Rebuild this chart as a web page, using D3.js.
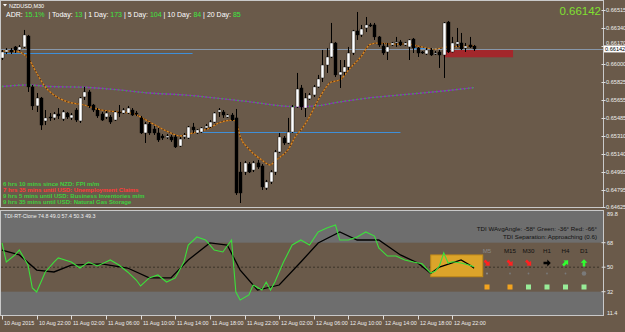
<!DOCTYPE html>
<html>
<head>
<meta charset="utf-8">
<script src="https://cdn.jsdelivr.net/npm/d3@7/dist/d3.min.js"></script>
<style>
  body { margin: 0; background: #6a5a4a; }
  svg { display: block; font-family: "Liberation Sans", Arial, sans-serif; }
</style>
</head>
<body>
<svg id="chart" width="625" height="332"></svg>
<script>
// ---- data (NZDUSD M30, 10 Aug 18:00 onwards) ----
// bars: [open, high, low, close]
const bars = [
  [0.66055,0.66132,0.66036,0.66113],[0.66113,0.66151,0.66094,0.66132],[0.66132,0.66151,0.66094,0.66113],
  [0.66161,0.66170,0.66103,0.66132],[0.66132,0.66180,0.66122,0.66161],[0.66161,0.66324,0.66151,0.66276],
  [0.66266,0.66276,0.65730,0.65778],[0.65778,0.65797,0.65557,0.65596],[0.65596,0.65720,0.65538,0.65672],
  [0.65672,0.65682,0.65366,0.65413],[0.65452,0.65557,0.65413,0.65481],[0.65490,0.65528,0.65452,0.65481],
  [0.65481,0.65538,0.65461,0.65519],[0.65519,0.65576,0.65471,0.65500],[0.65471,0.65557,0.65452,0.65538],
  [0.65528,0.65538,0.65471,0.65490],[0.65481,0.65528,0.65461,0.65509],[0.65557,0.65576,0.65442,0.65461],
  [0.65452,0.65682,0.65433,0.65672],[0.65682,0.65778,0.65653,0.65730],[0.65730,0.65749,0.65576,0.65596],
  [0.65605,0.65615,0.65538,0.65557],[0.65557,0.65576,0.65481,0.65500],[0.65519,0.65538,0.65452,0.65461],
  [0.65490,0.65548,0.65471,0.65528],[0.65490,0.65509,0.65423,0.65442],[0.65461,0.65548,0.65452,0.65538],
  [0.65538,0.65605,0.65490,0.65528],[0.65528,0.65576,0.65519,0.65557],[0.65528,0.65596,0.65519,0.65576],
  [0.65557,0.65576,0.65500,0.65509],[0.65528,0.65548,0.65500,0.65519],[0.65481,0.65500,0.65327,0.65337],
  [0.65337,0.65442,0.65241,0.65423],[0.65423,0.65442,0.65318,0.65337],[0.65375,0.65404,0.65318,0.65337],
  [0.65337,0.65385,0.65251,0.65270],[0.65308,0.65327,0.65270,0.65289],[0.65294,0.65327,0.65279,0.65308],
  [0.65299,0.65318,0.65251,0.65270],[0.65299,0.65318,0.65193,0.65203],[0.65212,0.65299,0.65203,0.65279],
  [0.65299,0.65337,0.65279,0.65318],[0.65289,0.65404,0.65279,0.65394],[0.65394,0.65433,0.65337,0.65366],
  [0.65337,0.65375,0.65327,0.65366],[0.65346,0.65394,0.65337,0.65385],[0.65385,0.65423,0.65375,0.65404],
  [0.65394,0.65461,0.65385,0.65442],[0.65442,0.65538,0.65433,0.65528],[0.65538,0.65576,0.65490,0.65557],
  [0.65538,0.65557,0.65481,0.65509],[0.65490,0.65519,0.65481,0.65509],[0.65509,0.65528,0.65452,0.65461],
  [0.65481,0.65567,0.64743,0.64762],[0.64963,0.65059,0.64666,0.64762],[0.64963,0.65069,0.64935,0.65050],
  [0.65040,0.65059,0.64954,0.64963],[0.64982,0.65069,0.64963,0.65050],[0.65050,0.65078,0.64992,0.65011],
  [0.65021,0.65040,0.64791,0.64820],[0.64810,0.64887,0.64791,0.64868],[0.64868,0.64982,0.64848,0.64963],
  [0.64963,0.65174,0.64935,0.65155],[0.65155,0.65337,0.65145,0.65299],[0.65289,0.65308,0.65222,0.65241],
  [0.65241,0.65481,0.65232,0.65346],[0.65346,0.65605,0.65337,0.65586],[0.65586,0.65912,0.65576,0.65758],
  [0.65768,0.65797,0.65557,0.65586],[0.65576,0.65720,0.65490,0.65672],[0.65663,0.65720,0.65653,0.65701],
  [0.65701,0.65797,0.65682,0.65778],[0.65778,0.65893,0.65768,0.65854],[0.65864,0.66132,0.65825,0.65988],
  [0.65988,0.66151,0.65912,0.66065],[0.66065,0.66391,0.66055,0.66199],[0.66199,0.66209,0.65873,0.65893],
  [0.65893,0.66036,0.65768,0.65921],[0.65921,0.66036,0.65893,0.65969],[0.65969,0.66161,0.65940,0.66103],
  [0.66103,0.66324,0.66084,0.66314],[0.66314,0.66496,0.66228,0.66276],[0.66276,0.66372,0.66257,0.66333],
  [0.66343,0.66448,0.66304,0.66372],[0.66372,0.66391,0.66352,0.66362],[0.66372,0.66391,0.66228,0.66257],
  [0.66257,0.66266,0.66161,0.66180],[0.66170,0.66199,0.66084,0.66103],[0.66113,0.66199,0.66036,0.66161],
  [0.66180,0.66209,0.66170,0.66199],[0.66199,0.66257,0.66161,0.66209],[0.66209,0.66228,0.66170,0.66180],
  [0.66180,0.66209,0.66170,0.66199],[0.66161,0.66237,0.66036,0.66228],[0.66237,0.66247,0.66103,0.66151],
  [0.66151,0.66161,0.66065,0.66103],[0.66113,0.66122,0.66094,0.66103],[0.66094,0.66151,0.66084,0.66132],
  [0.66132,0.66151,0.66075,0.66084],[0.66094,0.66122,0.66084,0.66103],[0.66113,0.66132,0.65960,0.66084],
  [0.66084,0.66400,0.65864,0.66391],[0.66400,0.66410,0.66103,0.66113],[0.66113,0.66257,0.66108,0.66199],
  [0.66189,0.66343,0.66161,0.66209],[0.66199,0.66295,0.66132,0.66142],[0.66151,0.66199,0.66113,0.66170],
  [0.66180,0.66257,0.66151,0.66161],[0.66170,0.66180,0.66122,0.66142]
];

// moving averages, [bar, price]
const fastMA = [[0,0.66122],[3,0.66122],[6,0.66055],[8,0.65911],[10,0.65777],[12,0.65701],[15,0.65637],
  [19,0.65605],[23,0.65557],[27,0.65538],[30,0.65528],[32,0.65490],[34,0.65445],[37,0.65375],[39,0.65337],
  [41,0.65308],[43,0.65327],[46,0.65356],[48,0.65385],[50,0.65433],[53,0.65461],[54,0.65451],[55,0.65301],
  [57,0.65183],[60,0.65078],[62,0.65030],[63,0.65068],[66,0.65174],[68,0.65318],[69,0.65365],[71,0.65493],
  [73,0.65653],[76,0.65825],[78,0.65844],[80,0.65940],[83,0.66074],[85,0.66186],[87,0.66199],[90,0.66189],
  [94,0.66189],[96,0.66170],[100,0.66141],[103,0.66161],[109,0.66170]];
const slowMA = [[0,0.65782],[6,0.65797],[11,0.65782],[19,0.65775],[27,0.65749],[34,0.65720],[42,0.65701],
  [50,0.65669],[57,0.65637],[65,0.65595],[69,0.65589],[73,0.65598],[76,0.65621],[84,0.65669],[92,0.65701],
  [100,0.65732],[103,0.65744],[109,0.65771]];

const priceTicks = [0.66515,0.66340,0.66170,0.66000,0.65825,0.65655,0.65485,0.65310,0.65140,0.64965,0.64795,0.64625];
const bidPrice = 0.66142;
// horizontal levels: [price, fromBar, toBar]
const levels = [[0.66100,0,44],[0.65343,46,92],[0.66154,95,102]];
const zone = {top: 0.66141, bottom: 0.66062, from: 102, to: 118};

const timeLabels = ["10 Aug 2015","10 Aug 22:00","11 Aug 02:00","11 Aug 06:00","11 Aug 10:00","11 Aug 14:00",
  "11 Aug 18:00","11 Aug 22:00","12 Aug 02:00","12 Aug 06:00","12 Aug 10:00","12 Aug 14:00","12 Aug 18:00","12 Aug 22:00"];
const timeLabelBars = [0,8,16,24,32,40,48,56,64,72,80,88,96,104];

const adrNames = ["ADR:","Today:","1 Day:","5 Day:","10 Day:","20 Day:"];
const adrValues = ["15.1%","13","173","104","84","85"];

const newsLines = ["6 hrs 10 mins since NZD: FPI m/m","7 hrs 35 mins until USD: Unemployment Claims",
  "9 hrs 5 mins until USD: Business Inventories m/m","9 hrs 35 mins until USD: Natural Gas Storage"];
const newsHigh = [false,true,false,false];

// TDI sub window, [bar, value]
const tdiGreen = [[0,67.8],[1,53.8],[3,59],[4,62.6],[6,51.6],[7,34.7],[8,31.8],[10,46.5],[12,53.8],[13,56.8],
  [16,53.8],[18,49.4],[20,53.8],[22,50.9],[24,53.8],[25,55.3],[27,51.6],[29,46.5],[31,40.6],[32,36.2],
  [34,42.1],[36,44.3],[38,39.1],[40,42.1],[42,53.8],[43,66.3],[45,72.2],[47,70],[49,62.6],[51,61.2],
  [53,70],[54,31.8],[55,25.9],[57,29.6],[58,36.9],[60,33.2],[61,39.1],[62,33.2],[63,39.1],[65,53.8],
  [67,66.3],[69,70],[71,66.3],[73,75.9],[75,78.8],[77,81],[78,70],[80,70],[82,72.2],[84,75.9],[86,72.9],
  [87,64.1],[89,58.2],[91,58.2],[93,55.3],[95,53.8],[97,52.5],[99,45.7],[100,47],[101,50.9],[102,60.5],
  [103,53.1],[104,54],[106,53.1],[108,51.5],[109,50.3]];
const tdiBlack = [[0,62.6],[4,59],[8,47.9],[12,46.5],[16,51.6],[23,52.4],[29,49.4],[34,42.1],[39,42.1],
  [43,55.3],[48,67.8],[52,66.3],[55,47.9],[59,33.2],[64,36.9],[69,53.8],[73,67.8],[78,75.9],[82,70],
  [87,70],[92,59],[96,53.1],[99,45.5],[101,50.1],[106,55.3],[108,51.6],[109,49.3]];
const tdiLevels = [68, 50, 32];
const tdiRange = [11.4, 89.8];
const tdiTitle = "TDI-RT-Clone 74.8 49.0 57.4 50.3 49.3";
const tdiInfo = ["TDI WAvgAngle: -58°  Green: -36°  Red: -66°", "TDI Separation: Approaching (0.6)"];
const tfNames = ["M5","M15","M30","H1","H4","D1"];
const tfTrend = ["down","down","down","flat","up","strongup"];
const tfState = ["weak","weak","strong","strong","strong","strong"];
const tdiBoxBars = [99, 111];
const tdiBoxValues = [43, 59];

// ---- layout ----
const svg = d3.select("#chart");
const mainBottom = 207.5, axisX = 603.5;
const x = d3.scaleLinear().domain([0, 139]).range([2, 604]);
const y = d3.scaleLinear().domain([0.64625, 0.66515]).range([207.3, 10]);
const ys = d3.scaleLinear().domain([32, 68]).range([291.7, 242.7]);
const subTop = 210.5, subBottom = 315.5;

const bg = "#6a5a4a", frame = "#c9c9c9";
svg.append("rect").attr("width", 625).attr("height", 332).attr("fill", bg);

svg.append("clipPath").attr("id", "mainClip")
  .append("rect").attr("x", 1).attr("y", 1).attr("width", axisX - 1).attr("height", mainBottom - 1);
const main = svg.append("g").attr("clip-path", "url(#mainClip)");

// red zone
main.append("rect")
  .attr("x", x(zone.from)).attr("width", x(zone.to) - x(zone.from))
  .attr("y", y(zone.top)).attr("height", y(zone.bottom) - y(zone.top))
  .attr("fill", "#a3272b");

// bid line
main.append("line").attr("x1", 0).attr("x2", axisX)
  .attr("y1", Math.round(y(bidPrice)) + 0.5).attr("y2", Math.round(y(bidPrice)) + 0.5)
  .attr("stroke", "#8797aa").attr("stroke-width", 1);

// blue levels
main.selectAll(".lvl").data(levels).enter().append("line")
  .attr("x1", d => d[1] === 0 ? 0 : x(d[1])).attr("x2", d => x(d[2]))
  .attr("y1", d => Math.round(y(d[0])) + 0.5).attr("y2", d => Math.round(y(d[0])) + 0.5)
  .attr("stroke", "#3f8fd8").attr("stroke-width", 1.2);

// moving averages (dotted, two colours)
const maLine = d3.line().x(d => x(d[0])).y(d => y(d[1])).curve(d3.curveMonotoneX);
main.append("path").attr("d", maLine(slowMA)).attr("fill", "none").attr("stroke", "#8e2cb8").attr("stroke-width", 1.3);
main.append("path").attr("d", maLine(slowMA)).attr("fill", "none").attr("stroke", "#33c433").attr("stroke-width", 1.3).attr("stroke-dasharray", "1.5,2.5");
main.append("path").attr("d", maLine(fastMA)).attr("fill", "none").attr("stroke", "#e08a1e").attr("stroke-width", 1.2);
main.append("path").attr("d", maLine(fastMA)).attr("fill", "none").attr("stroke", "#5a2f10").attr("stroke-width", 1.2).attr("stroke-dasharray", "1.5,2");

// candles
const candle = main.selectAll(".bar").data(bars).enter().append("g");
candle.append("line")
  .attr("x1", (d, i) => Math.round(x(i)) + 0.5).attr("x2", (d, i) => Math.round(x(i)) + 0.5)
  .attr("y1", d => y(d[1])).attr("y2", d => y(d[2]))
  .attr("stroke", "#000").attr("stroke-width", 1);
candle.append("rect")
  .attr("x", (d, i) => Math.round(x(i)) - 1)
  .attr("width", 3)
  .attr("y", d => y(Math.max(d[0], d[3])))
  .attr("height", d => Math.max(1, Math.abs(y(d[0]) - y(d[3]))))
  .attr("fill", d => d[3] >= d[0] ? "#fff" : "#000")
  .attr("stroke", "#000").attr("stroke-width", 0.4);

// news lines
svg.selectAll(".news").data(newsLines).enter().append("text")
  .attr("x", 3).attr("y", (d, i) => 185.5 + i * 6)
  .attr("font-size", 6).attr("font-weight", "bold")
  .attr("fill", (d, i) => newsHigh[i] ? "#ff3a3a" : "#3fcf3f")
  .text(d => d);

// header
svg.append("path").attr("d", "M3,4 L7,4 L5,6.5 Z").attr("fill", "#fff");
svg.append("text").attr("x", 9).attr("y", 7.5).attr("font-size", 5.5).attr("fill", "#fff").text("NZDUSD,M30");
const adr = svg.append("text").attr("x", 6).attr("y", 16.5).attr("font-size", 7).attr("xml:space", "preserve");
adrNames.forEach((n, i) => {
  adr.append("tspan").attr("fill", "#fff").text((i === 0 ? "" : (i === 1 ? "  | " : " | ")) + n + " ");
  adr.append("tspan").attr("fill", "#3ee63e").text(adrValues[i]);
});
svg.append("text").attr("x", 601).attr("y", 14.5).attr("text-anchor", "end")
  .attr("font-size", 11.5).attr("fill", "#80e030").text(d3.format(".5f")(bidPrice));

// frames
svg.append("rect").attr("x", 0.5).attr("y", 0.5).attr("width", axisX - 0.5).attr("height", mainBottom - 0.5)
  .attr("fill", "none").attr("stroke", frame);

// price axis (a label hidden by the bid box sits just above it)
const pa = svg.append("g");
const bidY = y(bidPrice);
pa.selectAll("line").data(priceTicks).enter().append("line")
  .attr("x1", axisX - 2).attr("x2", axisX + 2)
  .attr("y1", d => Math.round(y(d)) + 0.5).attr("y2", d => Math.round(y(d)) + 0.5)
  .attr("stroke", "#ddd");
pa.selectAll("text").data(priceTicks).enter().append("text")
  .attr("x", 606)
  .attr("y", d => Math.abs(y(d) - bidY) < 7 ? bidY - 4 : y(d) + 2)
  .attr("font-size", 5.6).attr("fill", "#eee")
  .text(d => d3.format(".5f")(d));
pa.append("rect").attr("x", 604).attr("y", bidY - 3.5).attr("width", 21).attr("height", 7).attr("fill", "#fff");
pa.append("text").attr("x", 605).attr("y", bidY + 2).attr("font-size", 5.6).attr("fill", "#000")
  .text(d3.format(".5f")(bidPrice));

// ---- TDI window ----
const sub = svg.append("g");
sub.append("rect").attr("x", 1).attr("y", subTop).attr("width", axisX - 1).attr("height", subBottom - subTop).attr("fill", "#6e6e6e");
sub.append("rect").attr("x", 1).attr("y", ys(68)).attr("width", axisX - 1).attr("height", ys(32) - ys(68)).attr("fill", bg);
sub.append("line").attr("x1", 1).attr("x2", axisX).attr("y1", ys(50)).attr("y2", ys(50))
  .attr("stroke", "#3a3328").attr("stroke-dasharray", "2,2");

sub.append("rect").attr("x", x(tdiBoxBars[0])).attr("width", x(tdiBoxBars[1]) - x(tdiBoxBars[0]))
  .attr("y", ys(tdiBoxValues[1])).attr("height", ys(tdiBoxValues[0]) - ys(tdiBoxValues[1]))
  .attr("fill", "#dca42a").attr("stroke", "#c08a18");

const tdiLine = d3.line().x(d => x(d[0])).y(d => ys(d[1]));
sub.append("path").attr("d", tdiLine(tdiBlack)).attr("fill", "none").attr("stroke", "#000").attr("stroke-width", 1.3);
sub.append("path").attr("d", tdiLine(tdiGreen)).attr("fill", "none").attr("stroke", "#3ce03c").attr("stroke-width", 1.1);

sub.append("rect").attr("x", 0.5).attr("y", subTop).attr("width", axisX - 0.5).attr("height", subBottom - subTop)
  .attr("fill", "none").attr("stroke", frame);
sub.append("text").attr("x", 4).attr("y", 217.5).attr("font-size", 5.3).attr("fill", "#eee").text(tdiTitle);
sub.selectAll(".info").data(tdiInfo).enter().append("text")
  .attr("x", 597).attr("y", (d, i) => 231 + i * 8).attr("text-anchor", "end")
  .attr("font-size", 6.2).attr("fill", "#111").text(d => d);

// multi timeframe panel
const tfX = [487, 510, 528.5, 547, 565.5, 584];
const arrowPath = "M-3.5,-1.3 L0.3,-1.3 L0.3,-3.4 L3.8,0 L0.3,3.4 L0.3,1.3 L-3.5,1.3 Z";
const trendAngle = {down: 45, flat: 0, up: -45, strongup: -90};
const trendColor = {down: "#ff2020", flat: "#000", up: "#30ff30", strongup: "#30ff30"};
tfNames.forEach((n, i) => {
  sub.append("text").attr("x", tfX[i]).attr("y", 252.5).attr("text-anchor", "middle")
    .attr("font-size", 6.2).attr("fill", i === 0 ? "#8a8a8a" : "#111").text(n);
  sub.append("path").attr("d", arrowPath)
    .attr("transform", `translate(${tfX[i]},263) rotate(${trendAngle[tfTrend[i]]})`)
    .attr("fill", trendColor[tfTrend[i]]);
  sub.append("circle").attr("cx", tfX[i]).attr("cy", 273.5).attr("r", i === 5 ? 2.3 : 0.9)
    .attr("fill", i === 0 ? "#8f8f8f" : "#7a7a7a");
  sub.append("rect").attr("x", tfX[i] - 2.5).attr("y", 284.5).attr("width", 5).attr("height", 5)
    .attr("fill", tfState[i] === "weak" ? "#f2a31f" : "#98ec98");
});

// TDI scale
const subLabels = [tdiRange[1], ...tdiLevels, tdiRange[0]];
const subLabelY = [213.5, ys(68), ys(50), ys(32), 313];
svg.selectAll(".slab").data(subLabels).enter().append("text")
  .attr("x", 607).attr("y", (d, i) => subLabelY[i] + 2).attr("font-size", 5.6).attr("fill", "#eee")
  .text(d => d);
svg.selectAll(".stick").data(tdiLevels).enter().append("line")
  .attr("x1", axisX - 2).attr("x2", axisX + 2).attr("y1", d => ys(d)).attr("y2", d => ys(d)).attr("stroke", "#ddd");

// time axis
const ta = svg.append("g");
timeLabelBars.forEach((b, i) => {
  const tx = Math.round(x(b)) + 0.5;
  ta.append("line").attr("x1", tx).attr("x2", tx).attr("y1", subBottom).attr("y2", subBottom + 4).attr("stroke", "#ddd");
  ta.append("text").attr("x", tx + 1.5).attr("y", 325).attr("font-size", 5.4).attr("fill", "#eee").text(timeLabels[i]);
});
</script>
</body>
</html>
